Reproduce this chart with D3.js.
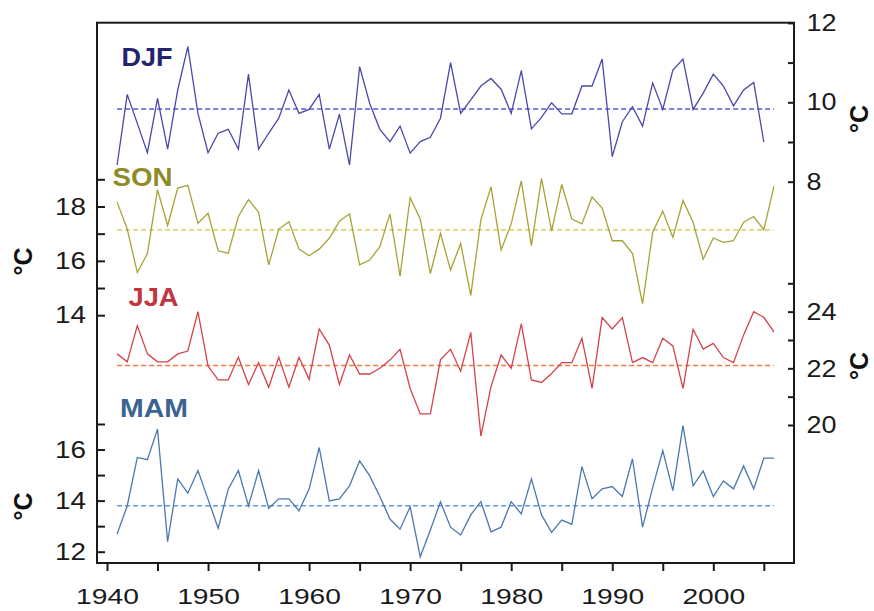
<!DOCTYPE html>
<html>
<head>
<meta charset="utf-8">
<script src="https://cdn.jsdelivr.net/npm/d3@7"></script>
<style>
  html, body { margin: 0; padding: 0; background: #fff; }
  svg { display: block; }
  text { font-family: "Liberation Sans", Arial, Helvetica, sans-serif; }
</style>
</head>
<body>
<svg id="chart" width="874" height="611"></svg>
<script>
// Seasonal mean temperatures, 1941-2006
const years = [1941,1942,1943,1944,1945,1946,1947,1948,1949,1950,
  1951,1952,1953,1954,1955,1956,1957,1958,1959,1960,
  1961,1962,1963,1964,1965,1966,1967,1968,1969,1970,
  1971,1972,1973,1974,1975,1976,1977,1978,1979,1980,
  1981,1982,1983,1984,1985,1986,1987,1988,1989,1990,
  1991,1992,1993,1994,1995,1996,1997,1998,1999,2000,
  2001,2002,2003,2004,2005,2006];

// Winter (1941-2005)
const djf = [8.42,10.20,9.47,8.73,10.10,8.82,10.31,11.40,9.72,8.73,
  9.22,9.32,8.82,10.71,8.82,9.22,9.60,10.31,9.72,9.82,
  10.20,8.82,9.70,8.42,10.90,9.97,9.32,9.01,9.40,8.72,
  9.01,9.12,9.60,11.00,9.72,10.06,10.41,10.60,10.33,9.72,
  10.80,9.33,9.62,9.99,9.71,9.71,10.41,10.41,11.09,8.63,
  9.51,9.89,9.40,10.49,9.82,10.81,11.09,9.82,10.23,10.71,
  10.41,9.91,10.31,10.50,9.00];

const son = [18.16,17.17,15.57,16.27,18.62,17.30,18.68,18.78,17.38,17.75,
  16.37,16.28,17.63,18.25,17.79,15.85,17.17,17.44,16.43,16.19,
  16.43,16.83,17.46,17.73,15.85,16.03,16.52,17.73,15.44,18.32,
  17.54,15.53,17.01,15.66,16.64,14.73,17.51,18.72,16.40,17.36,
  18.94,16.56,19.03,17.09,18.81,17.54,17.36,18.35,17.94,16.74,
  16.74,16.27,14.42,17.05,17.83,16.86,18.22,17.42,16.06,16.84,
  16.68,16.74,17.42,17.63,17.14,18.74];

const jja = [22.51,22.23,23.51,22.51,22.23,22.23,22.51,22.61,24.00,22.08,
  21.59,21.59,22.39,21.43,22.20,21.33,22.39,21.33,22.39,21.61,
  23.39,22.82,21.43,22.47,21.80,21.80,22.00,22.29,22.67,21.29,
  20.39,20.39,22.30,22.67,21.90,23.27,19.61,21.35,22.47,22.00,
  23.57,21.59,21.50,21.82,22.20,22.20,23.06,21.29,23.79,23.39,
  23.79,22.20,22.38,22.20,23.06,22.79,21.29,23.38,22.68,22.88,
  22.38,22.20,23.18,24.00,23.80,23.29];

const mam = [12.69,13.79,15.69,15.60,16.80,12.39,14.85,14.29,15.18,14.05,
  12.92,14.45,15.18,13.79,15.18,13.70,14.07,14.07,13.60,14.45,
  16.08,13.99,14.07,14.58,15.56,14.97,14.16,13.28,12.88,13.76,
  11.80,12.85,13.95,12.96,12.65,13.44,13.96,12.78,12.96,13.96,
  13.48,14.85,13.44,12.76,13.24,13.07,15.33,14.07,14.46,14.55,
  14.16,15.64,12.96,14.51,15.96,14.39,16.94,14.58,15.16,14.16,
  14.77,14.46,15.36,14.46,15.66,15.66];

// Long-term means (dashed reference lines)
const seasonNames = ["DJF", "SON", "JJA", "MAM"];
const seasonMeans = [9.83, 17.14, 22.1, 13.8];
const meanSpan = [1941, 2006];

// Tick values
const xTicks = [1940,1945,1950,1955,1960,1965,1970,1975,1980,1985,1990,1995,2000,2005];
const djfTicks = [8, 9, 10, 11, 12];
const sonTicks = [14, 15, 16, 17, 18, 19];
const jjaTicks = [20, 21, 22, 23, 24, 25];
const mamTicks = [12, 13, 14, 15, 16, 17];
const unitLabel = "°C";

const svg = d3.select("#chart");
const frame = { left: 97, right: 794, top: 22.7, bottom: 563 };

const x = d3.scaleLinear().domain([1940, 2000]).range([107, 713.3]);
const yDJF = d3.scaleLinear().domain([8, 12]).range([181.7, 22.9]);
const ySON = d3.scaleLinear().domain([14, 19]).range([315.2, 179.3]);
const yJJA = d3.scaleLinear().domain([20, 25]).range([425, 283.3]);
const yMAM = d3.scaleLinear().domain([12, 17]).range([551.7, 424]);

const series = [
  { name: seasonNames[0], values: djf, y: yDJF, line: "#4a48aa", dash: "#5a5ad2", label: "#24246e",
    lx: 121.5, ly: 65.5, lw: 51 },
  { name: seasonNames[1], values: son, y: ySON, line: "#a8a235", dash: "#cdc640", label: "#8f8b2b",
    lx: 112.5, ly: 185.5, lw: 60 },
  { name: seasonNames[2], values: jja, y: yJJA, line: "#d4424c", dash: "#f07a40", label: "#c4343e",
    lx: 128.5, ly: 305.5, lw: 50 },
  { name: seasonNames[3], values: mam, y: yMAM, line: "#4a78b0", dash: "#6496e6", label: "#3b6392",
    lx: 120, ly: 416.5, lw: 68 }
];

// Mean lines
series.forEach((s, i) => {
  svg.append("line")
    .attr("x1", x(meanSpan[0])).attr("x2", x(meanSpan[1]))
    .attr("y1", s.y(seasonMeans[i])).attr("y2", s.y(seasonMeans[i]))
    .attr("stroke", s.dash).attr("stroke-width", 1.4)
    .attr("stroke-dasharray", "5,3");
});

// Series lines
series.forEach(s => {
  const line = d3.line()
    .x((d, i) => x(years[i]))
    .y(d => s.y(d));
  svg.append("path")
    .datum(s.values)
    .attr("d", line)
    .attr("fill", "none")
    .attr("stroke", s.line)
    .attr("stroke-width", 1.3)
    .attr("stroke-linejoin", "miter");
});

// Season labels
series.forEach(s => {
  svg.append("text")
    .attr("x", s.lx).attr("y", s.ly)
    .attr("font-size", 26).attr("font-weight", "bold")
    .attr("fill", s.label)
    .attr("textLength", s.lw).attr("lengthAdjust", "spacingAndGlyphs")
    .text(s.name);
});

// Frame
svg.append("rect")
  .attr("x", frame.left).attr("y", frame.top)
  .attr("width", frame.right - frame.left)
  .attr("height", frame.bottom - frame.top)
  .attr("fill", "none").attr("stroke", "#1a1a1a").attr("stroke-width", 2);

function styleAxis(g, fontSize, digitW) {
  g.select(".domain").remove();
  g.selectAll(".tick line").attr("stroke", "#1a1a1a").attr("stroke-width", 2);
  g.selectAll(".tick text")
    .attr("fill", "#1a1a1a")
    .attr("font-size", fontSize)
    .attr("font-family", "Liberation Sans, Arial, sans-serif")
    .each(function () {
      const t = d3.select(this);
      const str = t.text();
      if (str) t.attr("textLength", digitW * str.length).attr("lengthAdjust", "spacingAndGlyphs");
    });
}

const evenFmt = d => (d % 2 === 0 ? d : "");

// Bottom axis
const gx = svg.append("g").attr("transform", `translate(0,${frame.bottom})`)
  .call(d3.axisBottom(x).tickValues(xTicks).tickSize(8)
    .tickFormat(d => (d % 10 === 0 ? d : "")));
styleAxis(gx, 22, 15.7);
gx.selectAll(".tick text").attr("y", 25).attr("dy", "0.71em");

// Left axes (SON, MAM)
[[ySON, sonTicks], [yMAM, mamTicks]].forEach(([sc, tv]) => {
  const g = svg.append("g").attr("transform", `translate(${frame.left},0)`)
    .call(d3.axisLeft(sc).tickValues(tv).tickSize(-8).tickPadding(11).tickFormat(evenFmt));
  styleAxis(g, 24, 15.5);
});

// Right axes (DJF, JJA)
[[yDJF, djfTicks], [yJJA, jjaTicks]].forEach(([sc, tv]) => {
  const g = svg.append("g").attr("transform", `translate(${frame.right},0)`)
    .call(d3.axisRight(sc).tickValues(tv).tickSize(-6).tickPadding(12.5).tickFormat(evenFmt));
  styleAxis(g, 24, 15);
});

// Unit labels
const units = [
  { x: 23, y: 261.5 }, { x: 23, y: 506.5 },
  { x: 859, y: 119 }, { x: 859, y: 366 }
];
units.forEach(u => {
  svg.append("text")
    .attr("transform", `translate(${u.x},${u.y}) rotate(-90)`)
    .attr("text-anchor", "middle").attr("dy", "0.36em")
    .attr("font-size", 25).attr("font-weight", "bold")
    .attr("fill", "#111")
    .text(unitLabel);
});
</script>
</body>
</html>
